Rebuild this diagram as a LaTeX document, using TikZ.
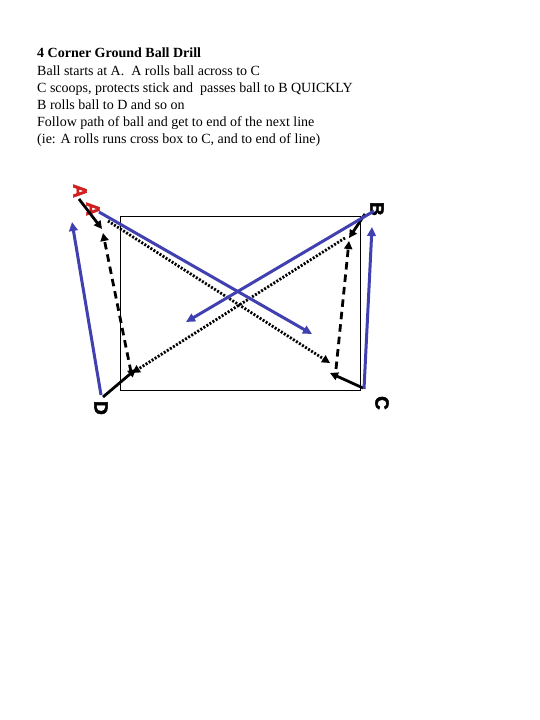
\documentclass[tikz,border=0pt]{standalone}
\usepackage{fontspec}
\setmainfont{Liberation Serif}
\newfontfamily\letfont[FakeBold=2.5]{Liberation Sans}
\usetikzlibrary{arrows.meta}
\definecolor{lineblue}{RGB}{64,64,176}
\definecolor{letred}{RGB}{210,30,30}
\begin{document}
\begin{tikzpicture}[x=1pt,y=-1pt,
  txt/.style={anchor=base west, inner sep=0pt, font=\fontsize{14pt}{16pt}\selectfont},
  letter/.style={inner sep=0pt, rotate=-90, font=\letfont\bfseries\fontsize{19pt}{19pt}\selectfont},
  bluearrow/.style={draw=lineblue, line width=3pt, -{Triangle[length=9pt,width=8.5pt]}},
  solidarrow/.style={draw=black, line width=2.8pt, -{Triangle[length=8pt,width=8pt]}},
  dotarrow/.style={draw=black, line width=2.8pt, dash pattern=on 2pt off 1.6pt, -{Triangle[length=8pt,width=8pt]}},
  dasharrow/.style={draw=black, line width=2.8pt, dash pattern=on 7.5pt off 5pt, -{Triangle[length=8pt,width=8pt]}}]
\useasboundingbox (0,0) rectangle (540,720);
\fill[white] (0,0) rectangle (540,720);
% text
\node[txt] (t1) at (37,57) {\bfseries 4 Corner Ground Ball Drill};
\node[txt] (t2) at (37,75) {Ball starts at A.\ \ A rolls ball across to C};
\node[txt] (t3) at (37,92) {C scoops, protects stick and\ \ passes ball to B QUICKLY};
\node[txt] (t4) at (37,109) {B rolls ball to D and so on};
\node[txt] (t5) at (37,126) {Follow path of ball and get to end of the next line};
\node[txt] (t6) at (37,143) {(ie: A rolls runs cross box to C, and to end of line)};
% box
\node[draw, line width=0.8pt, minimum width=240pt, minimum height=174pt, inner sep=0pt] (box) at (240,303) {};
% letters
\node[letter, text=letred] (A1) at (80,191) {A};
\node[letter, text=letred] (A2) at (93,209) {A};
\node[letter] (B) at (377,209) {B};
\node[letter] (C) at (382,403) {C};
\node[letter] (D) at (101,408) {D};
% end points
\coordinate (a1s) at (79,199); \coordinate (a1e) at (102,229);
\coordinate (a2s) at (99,212); \coordinate (a2e) at (312,334);
\coordinate (acs) at (108,221); \coordinate (ace) at (330,363);
\coordinate (bbs) at (374,211); \coordinate (bbe) at (186,322);
\coordinate (bss) at (365,214); \coordinate (bse) at (349,238);
\coordinate (bds) at (345,238); \coordinate (bde) at (132,373);
\coordinate (cbs) at (364,389); \coordinate (cbe) at (372,227);
\coordinate (css) at (363,388); \coordinate (cse) at (330,373);
\coordinate (cds) at (336,369); \coordinate (cde) at (349,241);
\coordinate (dbs) at (101,395); \coordinate (dbe) at (72,222);
\coordinate (dss) at (103,397); \coordinate (dse) at (136,369);
\coordinate (dds) at (131,372); \coordinate (dde) at (103,233);
% connectors
\draw[dotarrow] (acs) -- (ace);
\draw[dotarrow] (bds) -- (bde);
\draw[dasharrow] (cds) -- (cde);
\draw[dasharrow] (dds) -- (dde);
\draw[solidarrow] (a1s) -- (a1e);
\draw[solidarrow] (bss) -- (bse);
\draw[solidarrow] (css) -- (cse);
\draw[solidarrow] (dss) -- (dse);
\draw[bluearrow] (a2s) -- (a2e);
\draw[bluearrow] (bbs) -- (bbe);
\draw[bluearrow] (cbs) -- (cbe);
\draw[bluearrow] (dbs) -- (dbe);
\end{tikzpicture}
\end{document}
